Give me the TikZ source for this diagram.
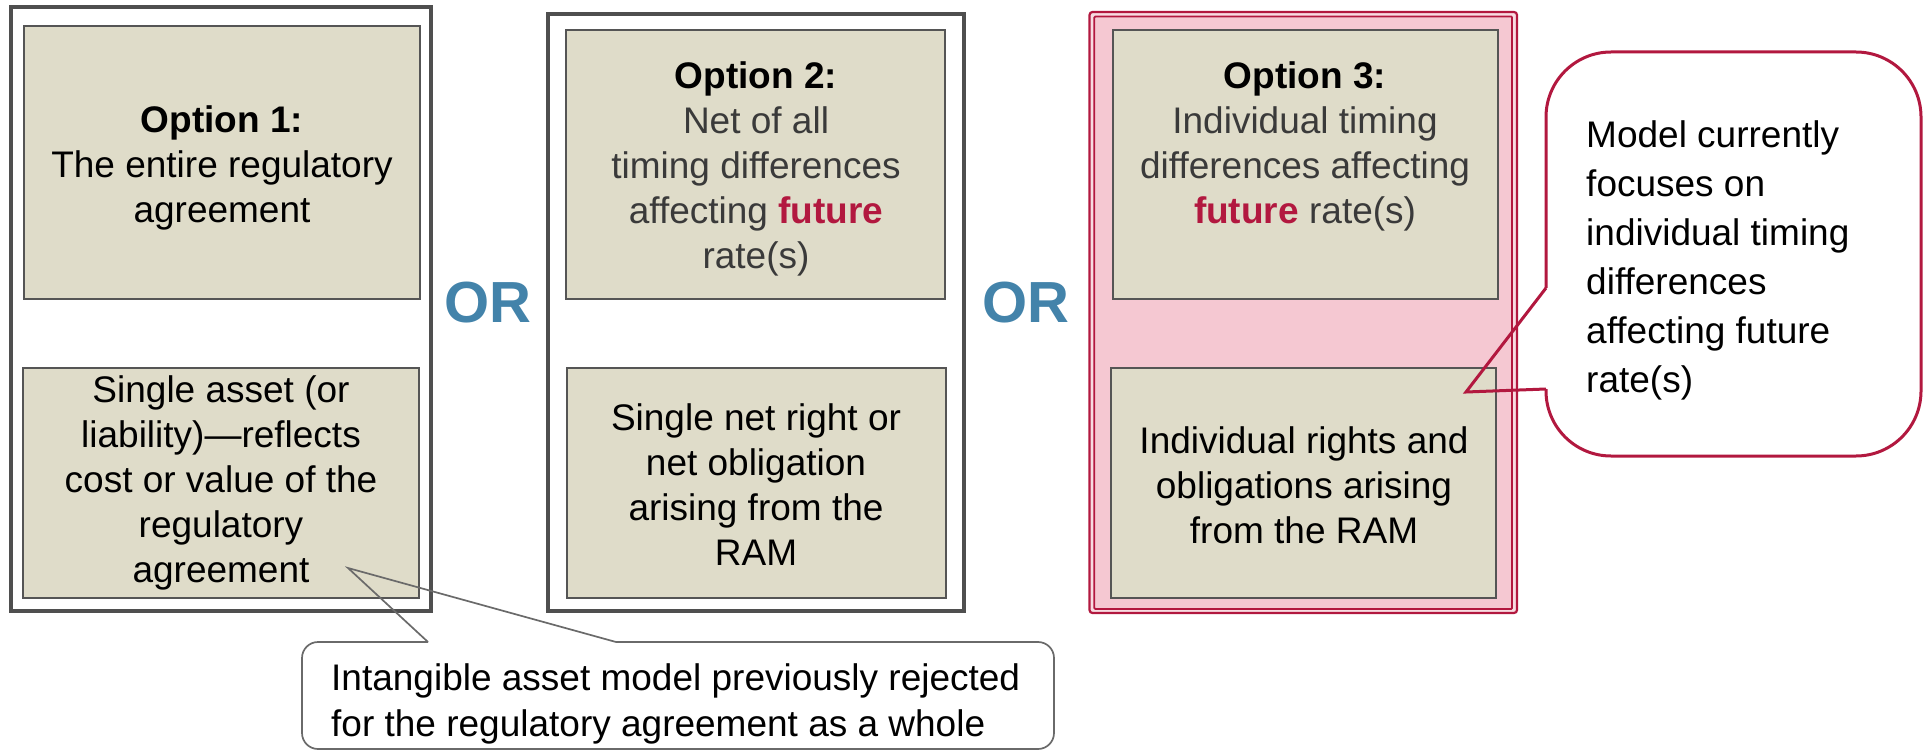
\documentclass[tikz,border=0pt]{standalone}
\usepackage{fontspec}
\setmainfont{Liberation Sans}
\definecolor{beige}{HTML}{DFDCC9}
\definecolor{pinkbg}{HTML}{F5C8D2}
\definecolor{pinklite}{HTML}{F8DCE2}
\definecolor{crim}{HTML}{B2183F}
\definecolor{orblue}{HTML}{4383AA}
\definecolor{framegray}{HTML}{4F4F4F}
\definecolor{boxgray}{HTML}{555555}
\definecolor{txtgray}{HTML}{3A3A3A}
\definecolor{callgray}{HTML}{6A6A6A}
\begin{document}
\begin{tikzpicture}[x=1pt,y=-1pt,
  outerbox/.style={draw=framegray, line width=4pt, rectangle, inner sep=0pt, fill=white},
  innerbox/.style={draw=boxgray, line width=1.8pt, rectangle, inner sep=0pt, fill=beige},
  bodytext/.style={font=\fontsize{37}{45}\selectfont, align=center, inner sep=0pt},
  ortext/.style={font=\fontsize{58}{60}\selectfont\bfseries, text=orblue, inner sep=0pt},
  redline/.style={draw=crim, line width=3pt},
  grayline/.style={draw=callgray, line width=1.7pt}]
\useasboundingbox (0,0) rectangle (1924,751);

% Option 1
\node[outerbox, minimum width=420pt, minimum height=604pt] (o1) at (221,309) {};
\node[innerbox, minimum width=396pt, minimum height=273pt] (o1t) at (222,162.5) {};
\node[innerbox, minimum width=396pt, minimum height=230pt] (o1b) at (221,483) {};
\node[bodytext] (t1t) at (222,168) {\textbf{Option 1:}\\The entire regulatory\\agreement};
\node[bodytext] (t1b) at (221,483) {Single asset (or\\liability)—reflects\\cost or value of the\\regulatory\\agreement};

% Option 2
\node[outerbox, minimum width=416pt, minimum height=597pt] (o2) at (756,312.5) {};
\node[innerbox, minimum width=379pt, minimum height=269pt] (o2t) at (755.5,164.5) {};
\node[innerbox, minimum width=379pt, minimum height=230pt] (o2b) at (756.5,483) {};
\node[bodytext, text=txtgray] (t2t) at (756,169) {\textcolor{black}{\textbf{Option 2:}}\\Net of all\\timing differences\\affecting \textcolor{crim}{\textbf{future}}\\rate(s)};
\node[bodytext] (t2b) at (756,485) {Single net right or\\net obligation\\arising from the\\RAM};

% Option 3
\node[rectangle, draw=crim, line width=2.2pt, fill=pinklite, rounded corners=3pt, minimum width=427.5pt, minimum height=601pt] (o3) at (1303.25,312.5) {};
\node[rectangle, draw=crim, line width=1.8pt, fill=pinkbg, rounded corners=1pt, minimum width=417.7pt, minimum height=592.5pt] (o3i) at (1303.15,312.75) {};
\node[innerbox, minimum width=385pt, minimum height=269pt] (o3t) at (1305.5,164.5) {};
\node[innerbox, minimum width=385pt, minimum height=230pt] (o3b) at (1303.5,483) {};
\node[bodytext, text=txtgray] (t3t) at (1305,146) {\textcolor{black}{\textbf{Option 3:}}\\Individual timing\\differences affecting\\\textcolor{crim}{\textbf{future}} rate(s)};
\node[bodytext] (t3b) at (1304,485) {Individual rights and\\obligations arising\\from the RAM};

% OR labels
\node[ortext] (or1) at (488,303) {OR};
\node[ortext] (or2) at (1026,303) {OR};

% Right callout
\coordinate (rcA) at (1546,288);
\coordinate (rcB) at (1546,389);
\coordinate (rcTip) at (1466,392);
\draw[redline, fill=white, rounded corners=65pt] (rcB) -- (1546,456) -- (1921,456) -- (1921,52) -- (1546,52) -- (rcA);
\draw[redline, line join=miter] (rcA) -- (rcTip) -- (rcB);
\node[font=\fontsize{37}{49}\selectfont, align=left, inner sep=0pt, anchor=west] (rct) at (1586,260) {Model currently\\focuses on\\individual timing\\differences\\affecting future\\rate(s)};

% Bottom callout
\coordinate (bcA) at (428,642);
\coordinate (bcB) at (616,642);
\coordinate (bcTip) at (348,568);
\draw[grayline, fill=white, rounded corners=16pt] (bcB) -- (1054,642) -- (1054,749) -- (302,749) -- (302,642) -- (bcA);
\draw[grayline, line join=miter] (bcA) -- (bcTip) -- (bcB);
\node[font=\fontsize{37}{46}\selectfont, align=left, inner sep=0pt, anchor=west] (bct) at (331,703.5) {Intangible asset model previously rejected\\for the regulatory agreement as a whole};
\end{tikzpicture}
\end{document}
